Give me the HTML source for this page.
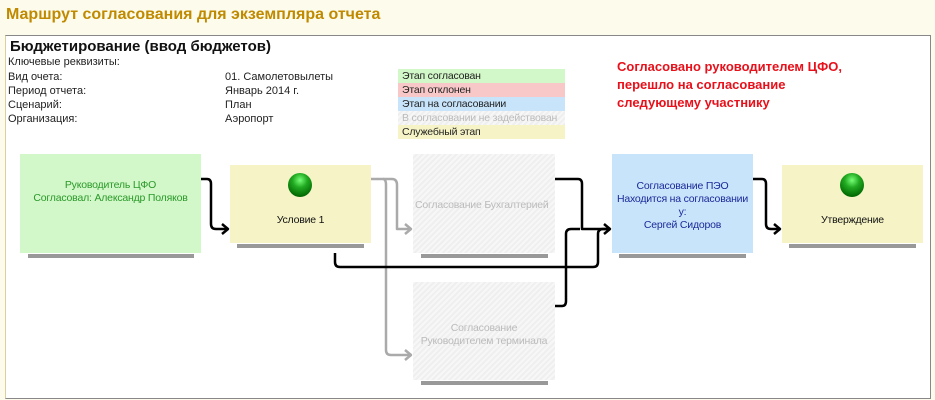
<!DOCTYPE html>
<html><head><meta charset="utf-8"><style>
body{margin:0;width:935px;height:400px;background:#fdfbec;font-family:"Liberation Sans",sans-serif;position:relative;overflow:hidden}
.a{position:absolute;white-space:nowrap}
.t{font-size:11px;color:#222}
.node{position:absolute;display:flex;align-items:center;justify-content:center;text-align:center;font-size:10.5px;line-height:13px;white-space:nowrap;letter-spacing:-0.2px}
.sh{position:absolute;height:4px;background:#999}
.hatch{background:repeating-linear-gradient(135deg,#f7f7f7 0 2px,#efefef 2px 4px);color:#bbb}
.lg{position:absolute;left:398px;width:167px;height:14px;font-size:10.5px;line-height:14px;padding-left:4px;box-sizing:border-box;color:#222;white-space:nowrap;overflow:hidden;letter-spacing:-0.2px}
.ball{position:absolute;width:24px;height:24px;border-radius:50%;background:radial-gradient(circle at 50% 30%,#7f7 0,#2a2 35%,#060 80%,#030 100%)}
</style></head><body>
<div class="a" style="left:6px;top:6px;font-size:16px;font-weight:bold;color:#c08a00">Маршрут согласования для экземпляра отчета</div>
<div class="a" style="left:5px;top:35px;width:924px;height:362px;background:#fff;border:1px solid #888;border-left-color:#d8d0a0"></div>
<div class="a" style="left:10px;top:38px;font-size:15px;font-weight:bold;color:#111">Бюджетирование (ввод бюджетов)</div>
<div class="a t" style="left:8px;top:56px">Ключевые реквизиты:</div>
<div class="a t" style="left:8px;top:71px">Вид очета:</div>
<div class="a t" style="left:8px;top:85px">Период отчета:</div>
<div class="a t" style="left:8px;top:99px">Сценарий:</div>
<div class="a t" style="left:8px;top:113px">Организация:</div>
<div class="a t" style="left:225px;top:71px">01. Самолетовылеты</div>
<div class="a t" style="left:225px;top:85px">Январь 2014 г.</div>
<div class="a t" style="left:225px;top:99px">План</div>
<div class="a t" style="left:225px;top:113px">Аэропорт</div>
<div class="lg" style="top:69px;background:#d2f7c8">Этап согласован</div>
<div class="lg" style="top:83px;background:#f8c8c8">Этап отклонен</div>
<div class="lg" style="top:97px;background:#c8e4fb">Этап на согласовании</div>
<div class="lg hatch" style="top:111px;color:#bbb">В согласовании не задействован</div>
<div class="lg" style="top:125px;background:#f6f4c6">Служебный этап</div>
<div class="a" style="left:617px;top:58px;font-size:13px;font-weight:bold;color:#e8101a;line-height:18px">Согласовано руководителем ЦФО,<br>перешло на согласование<br>следующему участнику</div>

<div class="node" style="left:20px;top:154px;width:181px;height:99px;background:#d2f7c8;color:#2a9a2a;padding-bottom:24px;box-sizing:border-box">Руководитель ЦФО<br>Согласовал: Александр Поляков</div>
<div class="sh" style="left:28px;top:254px;width:166px"></div>
<div class="node" style="left:230px;top:165px;width:141px;height:78px;background:#f6f4c6;color:#111;padding-top:32px;box-sizing:border-box">Условие 1</div>
<div class="ball" style="left:288px;top:173px"></div>
<div class="sh" style="left:237px;top:244px;width:127px"></div>
<div class="node hatch" style="left:413px;top:154px;width:142px;height:99px;padding-top:4px;box-sizing:border-box;justify-content:flex-start;overflow:hidden;padding-left:2px">Согласование Бухгалтерией</div>
<div class="sh" style="left:421px;top:254px;width:127px"></div>
<div class="node hatch" style="left:413px;top:282px;width:142px;height:98px;padding-top:8px;box-sizing:border-box">Согласование<br>Руководителем терминала</div>
<div class="sh" style="left:421px;top:381px;width:127px"></div>
<div class="node" style="left:612px;top:154px;width:141px;height:99px;background:#c8e4fb;color:#1a2a9a;padding-top:4px;box-sizing:border-box">Согласование ПЭО<br>Находится на согласовании<br>у:<br>Сергей Сидоров</div>
<div class="sh" style="left:619px;top:254px;width:127px"></div>
<div class="node" style="left:782px;top:165px;width:141px;height:78px;background:#f6f4c6;color:#111;padding-top:32px;box-sizing:border-box">Утверждение</div>
<div class="ball" style="left:840px;top:173px"></div>
<div class="sh" style="left:789px;top:244px;width:127px"></div>

<svg class="a" style="left:0;top:0" width="935" height="400" fill="none" stroke-linejoin="round">
<g stroke="#aaa" stroke-width="2.5">
<path d="M371 179 H392 Q397 179 397 185 V229 H411"/><path d="M405 224 L411 229 L405 234"/>
<path d="M383 179 Q386 179 386 185 V350 Q386 355 391 355 H411"/><path d="M405 350 L411 355 L405 360"/>
</g>
<g stroke="#000" stroke-width="2.5">
<path d="M201 179 H207 Q211 179 211 184 V224 Q211 229 216 229 H228"/><path d="M222 224 L228 229 L222 234"/>
<path d="M335 253 V262 Q335 267 340 267 H593 Q598 267 598 262 V234 Q598 229 603 229 H610"/>
<path d="M555 179 H578 Q582 179 582 184 V229 H610"/>
<path d="M555 306 H562 Q566 306 566 301 V234 Q566 229 571 229 H580"/>
<path d="M604 224 L610 229 L604 234"/>
<path d="M753 179 H762 Q766 179 766 184 V224 Q766 229 771 229 H780"/><path d="M774 224 L780 229 L774 234"/>
</g>
</svg>
</body></html>
